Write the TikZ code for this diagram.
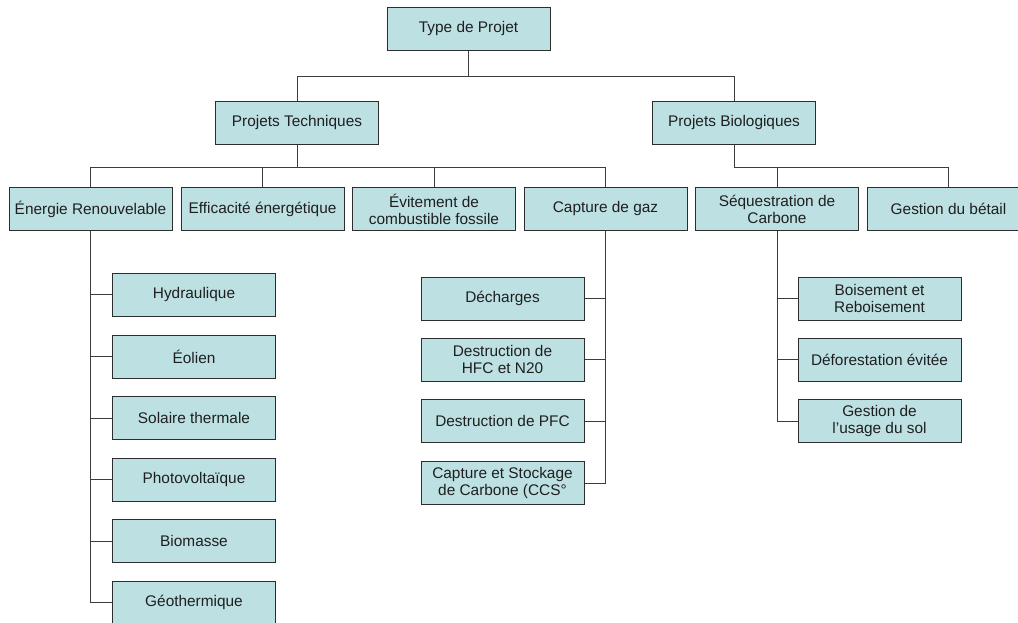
\documentclass[tikz,border=0pt]{standalone}
\usepackage{fontspec}
\setmainfont{Liberation Sans}
\definecolor{boxfill}{RGB}{189,224,227}
\definecolor{boxline}{RGB}{45,45,45}
\definecolor{linkline}{RGB}{60,60,60}

\begin{document}
\begin{tikzpicture}[x=1pt,y=-1pt,
    box/.style={draw=boxline, line width=1pt, fill=boxfill, text=black!88,
      minimum width=163pt, minimum height=43pt, inner sep=2pt, align=center,
      font=\fontsize{15.4}{17}\selectfont},
    link/.style={draw=linkline, line width=0.9pt}]
    \useasboundingbox (0,0) rectangle (1018,623);
    % First, locate each of the nodes and name them
    \node[box] (type) at (468.5,29) {Type de Projet};
    \node[box] (tech) at (297,123) {Projets Techniques};
    \node[box] (bio) at (734,123) {Projets Biologiques};
    \node[box] (enr) at (90.5,209) {Énergie Renouvelable};
    \node[box] (eff) at (262.5,209) {Efficacité énergétique};
    \node[box] (evit) at (434,209) {Évitement de\\combustible fossile};
    \node[box] (gaz) at (605.5,209) {Capture de gaz};
    \node[box] (seq) at (777,209) {Séquestration de\\Carbone};
    \node[box] (betail) at (948.5,209) {Gestion du bétail};
    % renewable energy column
    \node[box] (hydro) at (194,294.5) {Hydraulique};
    \node[box] (eolien) at (194,356.5) {Éolien};
    \node[box] (solaire) at (194,418) {Solaire thermale};
    \node[box] (photo) at (194,479.5) {Photovoltaïque};
    \node[box] (biomasse) at (194,541) {Biomasse};
    \node[box] (geo) at (194,602.5) {Géothermique};
    % gas capture column
    \node[box] (decharges) at (502.5,298.5) {Décharges};
    \node[box] (hfc) at (502.5,359.5) {Destruction de\\HFC et N20};
    \node[box] (pfc) at (502.5,421) {Destruction de PFC};
    \node[box] (ccs) at (502.5,483) {Capture et Stockage\\de Carbone (CCS°};
    % carbon sequestration column
    \node[box] (boise) at (879.5,298.5) {Boisement et\\Reboisement};
    \node[box] (defor) at (879.5,359.5) {Déforestation évitée};
    \node[box] (usage) at (879.5,421) {Gestion de\\l’usage du sol};
    % Now draw the lines
    \draw[link] (type.south) -- ++(0,25) -| (tech.north);
    \draw[link] (type.south) -- ++(0,25) -| (bio.north);
    \draw[link] (tech.south) -- ++(0,22) -| (enr.north);
    \draw[link] (tech.south) -- ++(0,22) -| (eff.north);
    \draw[link] (tech.south) -- ++(0,22) -| (evit.north);
    \draw[link] (tech.south) -- ++(0,22) -| (gaz.north);
    \draw[link] (bio.south) -- ++(0,22) -| (seq.north);
    \draw[link] (bio.south) -- ++(0,22) -| (betail.north);
    \draw[link] (enr.south) |- (hydro.west);
    \draw[link] (enr.south) |- (eolien.west);
    \draw[link] (enr.south) |- (solaire.west);
    \draw[link] (enr.south) |- (photo.west);
    \draw[link] (enr.south) |- (biomasse.west);
    \draw[link] (enr.south) |- (geo.west);
    \draw[link] (gaz.south) |- (decharges.east);
    \draw[link] (gaz.south) |- (hfc.east);
    \draw[link] (gaz.south) |- (pfc.east);
    \draw[link] (gaz.south) |- (ccs.east);
    \draw[link] (seq.south) |- (boise.west);
    \draw[link] (seq.south) |- (defor.west);
    \draw[link] (seq.south) |- (usage.west);
\end{tikzpicture}
\end{document}
